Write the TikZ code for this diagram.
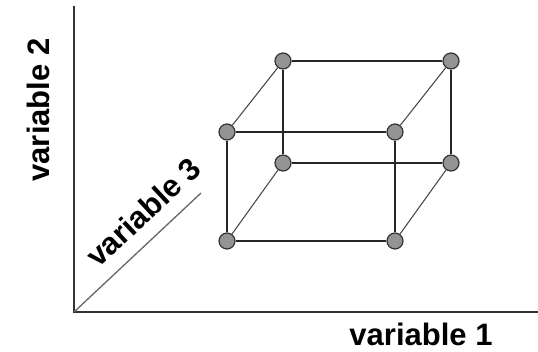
\documentclass[tikz,border=0pt]{standalone}
\usepackage{fontspec}
\setmainfont{Liberation Sans}
\usepackage{tikz}
\usetikzlibrary{positioning}

\begin{document}
\begin{tikzpicture}[
    x=1pt, y=-1pt,
    vertex/.style={
        draw=black!80,
        circle,
        fill=black!42,
        line width=1.2pt,
        inner sep=0pt,
        minimum size=16pt
    },
    edge/.style={
        line width=2pt,
        draw=black!85
    },
    slant/.style={
        line width=1.1pt,
        draw=black!70
    },
    axis/.style={
        line width=2.4pt,
        draw=black!80
    },
    axislabel/.style={
        font=\fontsize{31}{31}\selectfont\bfseries,
        inner sep=0pt
    }
]
    \useasboundingbox (0,0) rectangle (538,352);

    % --- Axes ---
    \coordinate (origin) at (74,312);
    \coordinate (ytop)   at (74,6);
    \coordinate (xend)   at (538,312);
    \coordinate (zend)   at (201,193);
    \draw[axis] (ytop) -- (origin) -- (xend);
    \draw[line width=1.3pt, draw=black!60] (origin) -- (zend);

    % --- Axis labels ---
    \node[axislabel, rotate=90] (ylab) at (38,110) {variable 2};
    \node[axislabel] (xlab) at (421,334) {variable 1};
    \node[axislabel, rotate=43] (zlab) at (143,212) {variable 3};

    % --- Box corners (front face, then back face) ---
    \node[vertex] (ftl) at (227,132) {};
    \node[vertex] (ftr) at (395,132) {};
    \node[vertex] (fbl) at (227,241) {};
    \node[vertex] (fbr) at (395,241) {};
    \node[vertex] (btl) at (283,61)  {};
    \node[vertex] (btr) at (451,61)  {};
    \node[vertex] (bbl) at (283,163) {};
    \node[vertex] (bbr) at (451,163) {};

    % --- Box edges ---
    \draw[edge] (ftl) -- (ftr);
    \draw[edge] (ftr) -- (fbr);
    \draw[edge] (fbr) -- (fbl);
    \draw[edge] (fbl) -- (ftl);
    \draw[edge] (btl) -- (btr);
    \draw[edge] (btr) -- (bbr);
    \draw[edge] (bbr) -- (bbl);
    \draw[edge] (bbl) -- (btl);
    \draw[slant] (ftl) -- (btl);
    \draw[slant] (ftr) -- (btr);
    \draw[slant] (fbl) -- (bbl);
    \draw[slant] (fbr) -- (bbr);
\end{tikzpicture}
\end{document}
